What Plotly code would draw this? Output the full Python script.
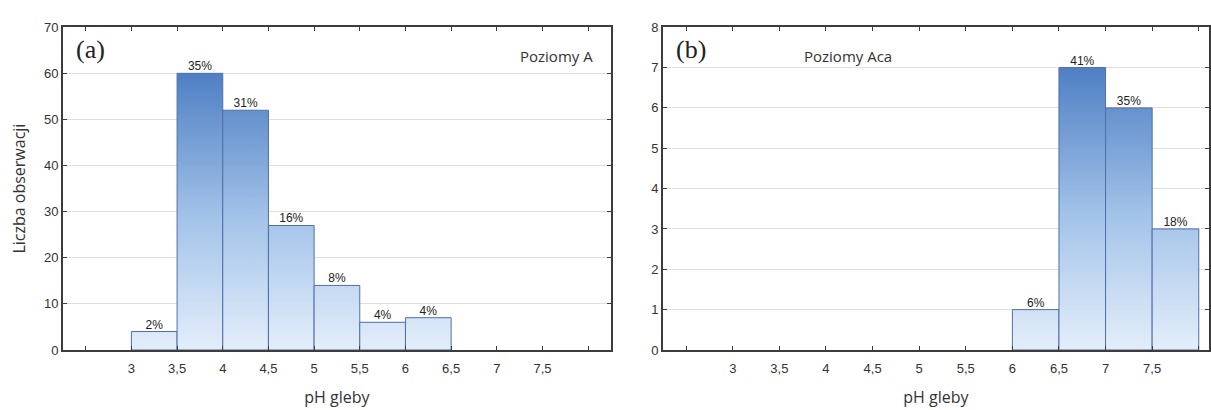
import plotly.graph_objects as go

# Data
bin_left_a = [3.0, 3.5, 4.0, 4.5, 5.0, 5.5, 6.0]
counts_a = [4, 60, 52, 27, 14, 6, 7]
pct_a = ["2%", "35%", "31%", "16%", "8%", "4%", "4%"]

bin_left_b = [6.0, 6.5, 7.0, 7.5]
counts_b = [1, 7, 6, 3]
pct_b = ["6%", "41%", "35%", "18%"]

bin_width = 0.5
tick_vals = [2.5, 3, 3.5, 4, 4.5, 5, 5.5, 6, 6.5, 7, 7.5, 8]
tick_text = ["", "3", "3,5", "4", "4,5", "5", "5,5", "6", "6,5", "7", "7,5", ""]

x_title = "pH gleby"
y_title = "Liczba obserwacji"

fig = go.Figure()

grad_scale = [[0, "#eaf2fc"], [0.5, "#a3c3e9"], [1, "#5080c4"]]


def add_hist(lefts, counts, pcts, xa, ya):
    top = max(counts)
    for l, c in zip(lefts, counts):
        r = l + bin_width
        fig.add_trace(go.Scatter(
            x=[l, l, r, r, l], y=[0, c, c, 0, 0],
            mode="lines", fill="toself",
            fillgradient=dict(type="vertical", colorscale=grad_scale, start=0, stop=top),
            line=dict(color="#4e6fa6", width=1),
            xaxis=xa, yaxis=ya, showlegend=False, hoverinfo="skip",
        ))
    fig.add_trace(go.Scatter(
        x=[l + bin_width / 2 for l in lefts], y=counts, text=pcts,
        mode="text", textposition="top center",
        textfont=dict(family="Liberation Sans, Arial", size=12, color="#222"),
        xaxis=xa, yaxis=ya, showlegend=False, hoverinfo="skip",
    ))


add_hist(bin_left_a, counts_a, pct_a, "x", "y")
add_hist(bin_left_b, counts_b, pct_b, "x2", "y2")

W, H = 1211, 410
ydom = [1 - 356 / H, 1 - 21 / H]

axis_common = dict(
    showline=True, linecolor="#3c3c3c", linewidth=1.5, mirror="ticks",
    ticks="inside", ticklen=4, tickcolor="#3c3c3c",
    tickfont=dict(family="Liberation Sans, Arial", size=13, color="#333"),
    zeroline=False,
)
title_font = dict(family="Open Sans", size=16, color="#333")

fig.update_layout(
    width=W, height=H,
    margin=dict(l=0, r=0, t=0, b=0),
    paper_bgcolor="white", plot_bgcolor="white",
    xaxis=dict(domain=[63 / W, 612 / W], range=[2.25, 8.25], tickvals=tick_vals, ticktext=tick_text,
               showgrid=False, anchor="y", ticklabelstandoff=6,
               title=dict(text=x_title, font=title_font, standoff=16),
               **axis_common),
    yaxis=dict(domain=ydom, range=[0, 70], dtick=10, showgrid=True, gridcolor="#dedede", anchor="x",
               title=dict(text=y_title, font=title_font, standoff=14),
               **axis_common),
    xaxis2=dict(domain=[664 / W, 1.0], range=[2.25, 8.11], tickvals=tick_vals, ticktext=tick_text,
                showgrid=False, anchor="y2", ticklabelstandoff=6,
                title=dict(text=x_title, font=title_font, standoff=16),
                **axis_common),
    yaxis2=dict(domain=ydom, range=[0, 8], dtick=1, showgrid=True, gridcolor="#dedede", anchor="x2",
                **axis_common),
)

fig.add_annotation(text="(a)", xref="x domain", yref="y domain", x=0.02, y=0.93,
                   xanchor="left", yanchor="middle", showarrow=False,
                   font=dict(family="Liberation Serif, Times New Roman", size=26, color="#222"))
fig.add_annotation(text="Poziomy A", xref="x domain", yref="y domain", x=0.97, y=0.91,
                   xanchor="right", yanchor="middle", showarrow=False,
                   font=dict(family="Open Sans", size=15, color="#333"))
fig.add_annotation(text="(b)", xref="x2 domain", yref="y2 domain", x=0.02, y=0.93,
                   xanchor="left", yanchor="middle", showarrow=False,
                   font=dict(family="Liberation Serif, Times New Roman", size=26, color="#222"))
fig.add_annotation(text="Poziomy Aca", xref="x2 domain", yref="y2 domain", x=0.255, y=0.91,
                   xanchor="left", yanchor="middle", showarrow=False,
                   font=dict(family="Open Sans", size=15, color="#333"))

fig.write_html("out.html")
